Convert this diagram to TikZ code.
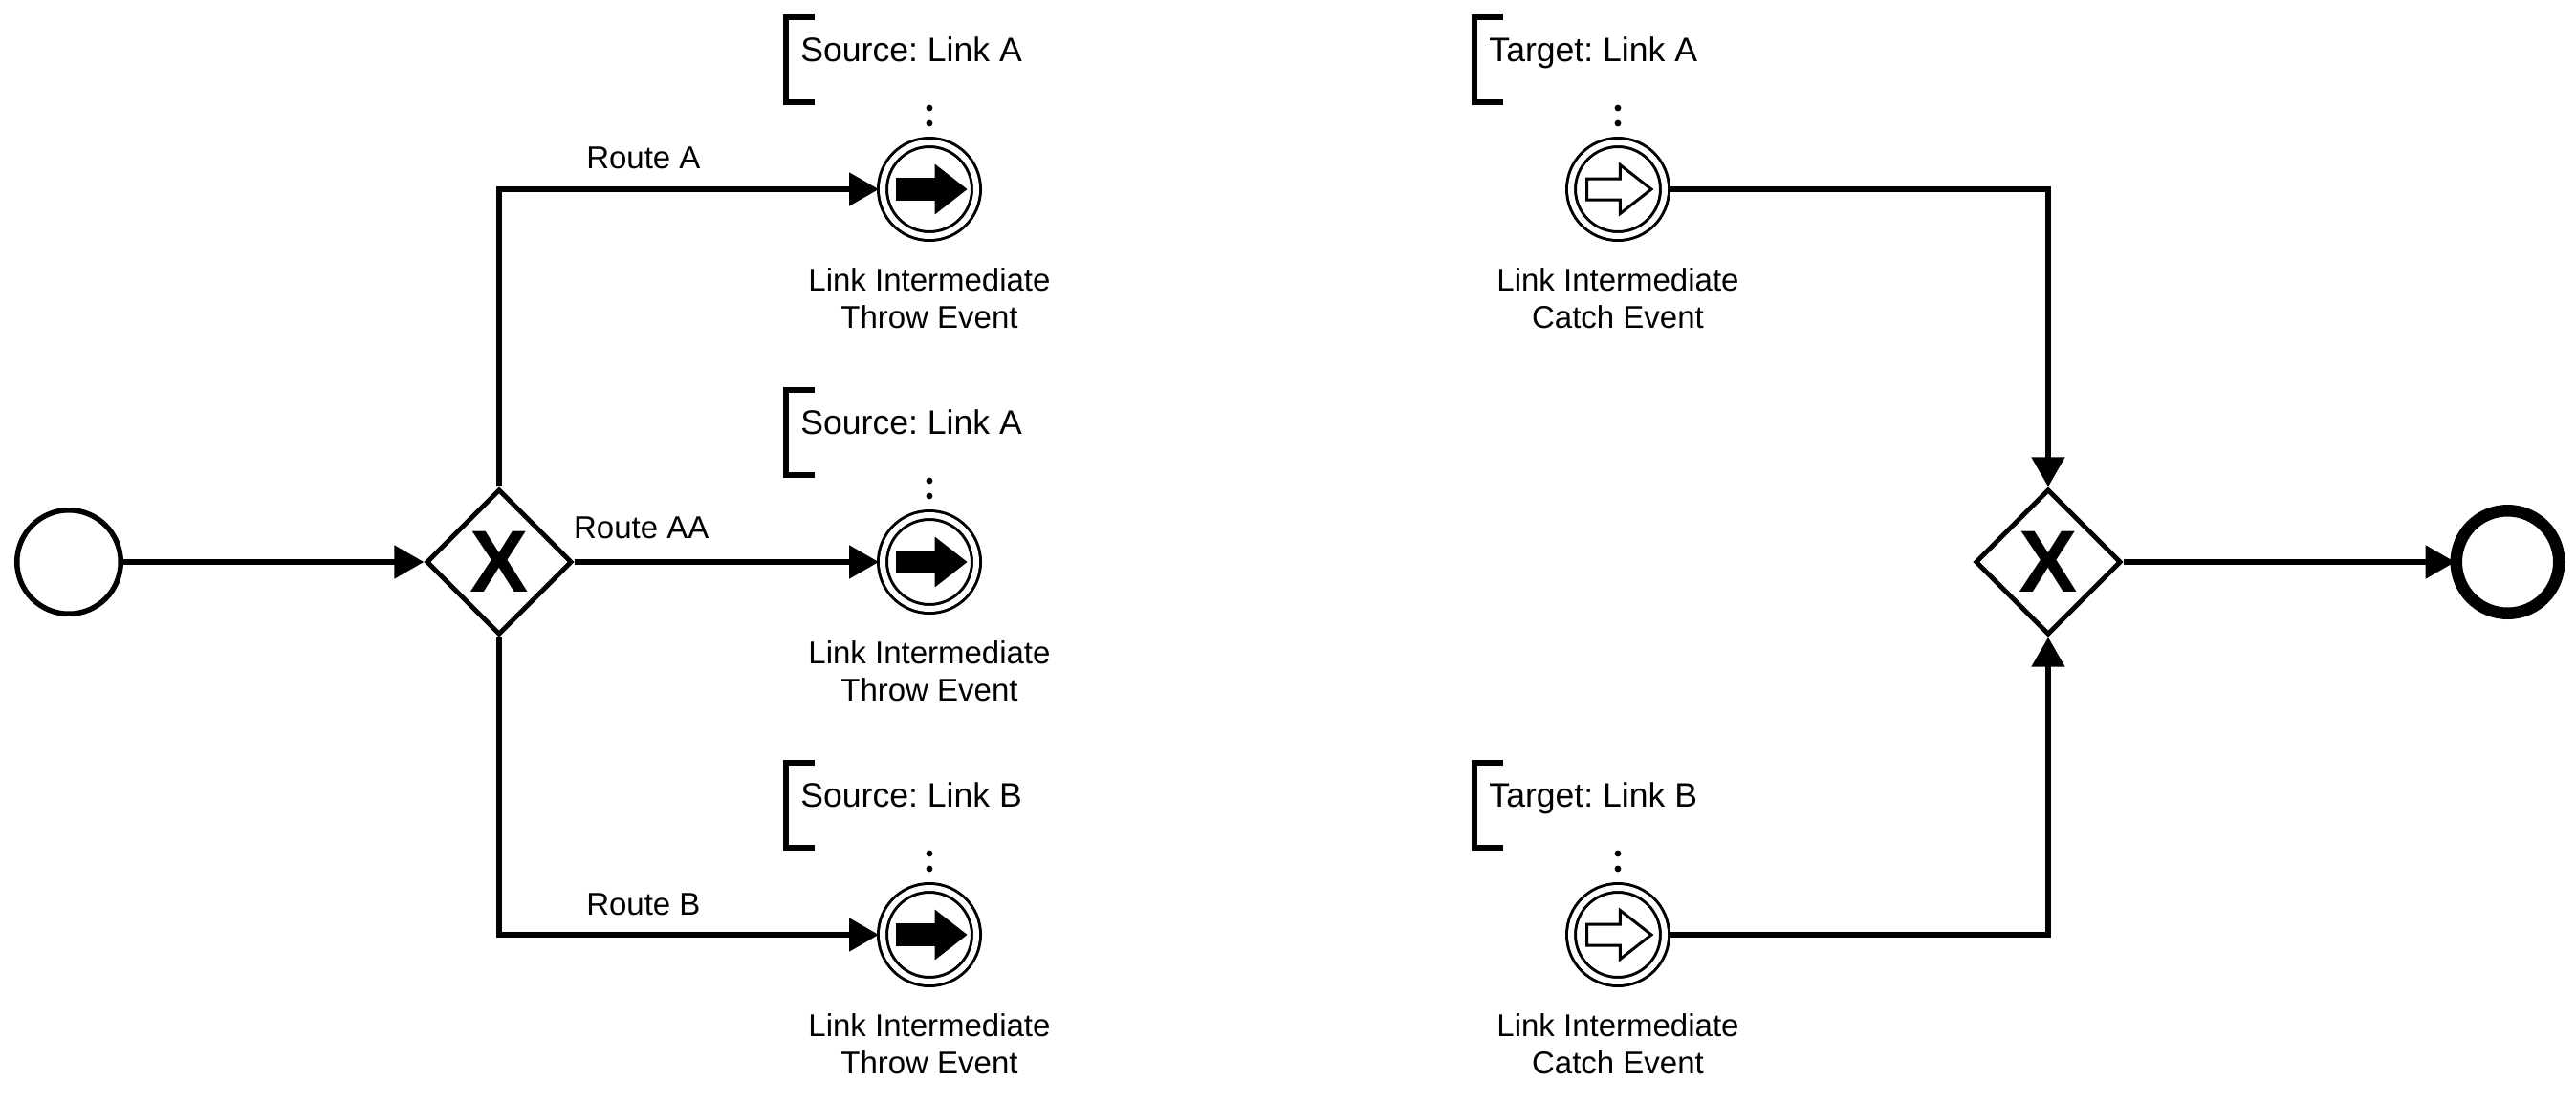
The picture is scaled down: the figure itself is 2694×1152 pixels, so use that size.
\documentclass[tikz,border=0pt]{standalone}
\usepackage{fontspec}
\setmainfont{Liberation Sans}
\usetikzlibrary{arrows.meta,shapes.geometric,shapes.arrows}

\begin{document}
\begin{tikzpicture}[x=0.5pt,y=-0.5pt,>={Triangle[length=15.5pt,width=17pt]},node distance=225pt,
  flow/.style={->,line width=2.65pt},
  event node/.style={circle,draw,inner sep=0pt,outer sep=0pt},
  start node/.style={event node,line width=2.75pt,minimum size=54.25pt,outer sep=1.375pt},
  end node/.style={event node,line width=6.25pt,minimum size=53.75pt,outer sep=0.6pt},
  link node/.style={event node,line width=1.5pt,double,double distance=3pt,minimum size=49pt,outer sep=2pt},
  gate node/.style={diamond,draw,line width=2.5pt,inner sep=0pt,outer sep=1.25pt,minimum size=76.2pt,font=\fontsize{46pt}{46pt}\selectfont\bfseries},
  throw arrow/.style={single arrow,fill=black,anchor=tail,inner xsep=0pt,inner ysep=5.75pt,outer sep=0pt,minimum height=37.25pt,
    single arrow head extend=7.25pt,single arrow tip angle=76,xshift=-17.5pt},
  catch arrow/.style={single arrow,draw,fill=white,line width=1.5pt,anchor=tail,inner xsep=0pt,inner ysep=4.75pt,outer sep=0pt,minimum height=33.75pt,
    single arrow head extend=7.25pt,single arrow tip angle=76,xshift=-16.25pt},
  label node/.style={align=center,inner sep=0pt,font=\fontsize{16.5pt}{19.5pt}\selectfont\frenchspacing,node distance=57pt},
  note node/.style={anchor=base west,inner sep=0pt,font=\fontsize{17.8pt}{19.5pt}\selectfont\frenchspacing},
  note line/.style={line width=3pt},
  assoc line/.style={line width=3.4pt,line cap=round,dash pattern=on 0pt off 8pt,shorten >=5pt},
  route node/.style={inner sep=0pt,font=\fontsize{16.5pt}{19.5pt}\selectfont\frenchspacing}]
  \useasboundingbox (0,0) rectangle (2694,1152);

  \node[start node] (s) at (72,588) {};
  \node[gate node] (g1) [right of=s] {X};
  \node[link node] (t2) [right of=g1] {};
  \node[link node] (t1) [above of=t2,node distance=195pt] {};
  \node[link node] (t3) [below of=t2,node distance=195pt] {};
  \node[link node] (c1) [right of=t1,node distance=360pt] {};
  \node[link node] (c3) [right of=t3,node distance=360pt] {};
  \node[gate node] (g2) [right of=g1,node distance=810pt] {X};
  \node[end node] (e) [right of=g2,node distance=240.25pt] {};

  \node[throw arrow] (a1) at (t1) {};
  \node[throw arrow] (a2) at (t2) {};
  \node[throw arrow] (a3) at (t3) {};
  \node[catch arrow] (a4) at (c1) {};
  \node[catch arrow] (a5) at (c3) {};

  \node[label node] (l1) [below of=t1] {Link Intermediate\\Throw Event};
  \node[label node] (l2) [below of=t2] {Link Intermediate\\Throw Event};
  \node[label node] (l3) [below of=t3] {Link Intermediate\\Throw Event};
  \node[label node] (l4) [below of=c1] {Link Intermediate\\Catch Event};
  \node[label node] (l5) [below of=c3] {Link Intermediate\\Catch Event};

  \node[note node] (n1) at (837,64) {Source: Link A};
  \node[note node] (n2) at (837,454) {Source: Link A};
  \node[note node] (n3) at (837,844) {Source: Link B};
  \node[note node] (n4) at (1557,64) {Target: Link A};
  \node[note node] (n5) at (1557,844) {Target: Link B};

  \draw[note line] (852,18) -| (822,107) -- (852,107);
  \draw[note line] (852,408) -| (822,497) -- (852,497);
  \draw[note line] (852,798) -| (822,887) -- (852,887);
  \draw[note line] (1572,18) -| (1542,107) -- (1572,107);
  \draw[note line] (1572,798) -| (1542,887) -- (1572,887);

  \coordinate (d1) at (972,113);
  \coordinate (d2) at (972,503);
  \coordinate (d3) at (972,893);
  \coordinate (d4) at (1692,113);
  \coordinate (d5) at (1692,893);
  \draw[assoc line] (d1) -- (t1.north);
  \draw[assoc line] (d2) -- (t2.north);
  \draw[assoc line] (d3) -- (t3.north);
  \draw[assoc line] (d4) -- (c1.north);
  \draw[assoc line] (d5) -- (c3.north);

  \draw[flow] (s) -- (g1);
  \draw[flow] (g1.north) |- node[route node,pos=0.69,above=9.5pt] {Route A} (t1.west);
  \draw[flow] (g1) -- node[route node,pos=0.22,above=11pt] {Route AA} (t2.west);
  \draw[flow] (g1.south) |- node[route node,pos=0.69,above=9pt] {Route B} (t3.west);
  \draw[flow] (c1.east) -| (g2.north);
  \draw[flow] (c3.east) -| (g2.south);
  \draw[flow] (g2) -- (e);

\end{tikzpicture}
\end{document}
